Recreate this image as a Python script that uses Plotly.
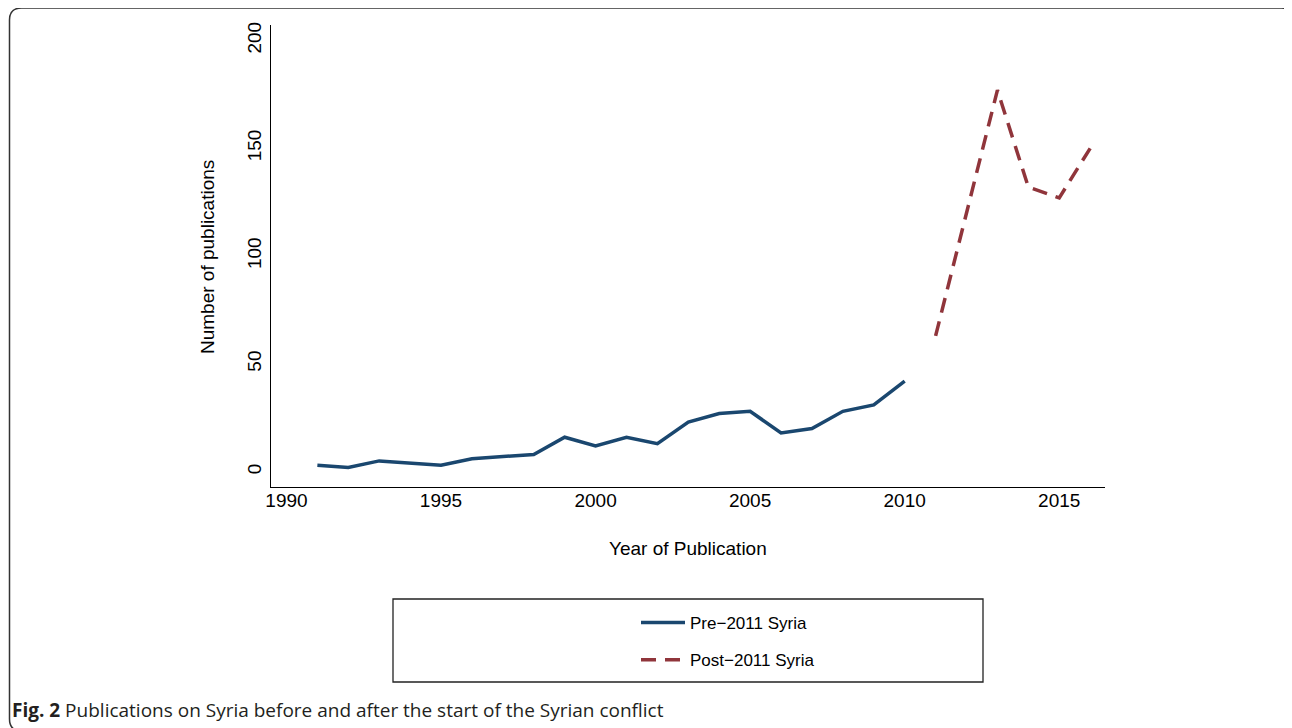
import plotly.graph_objects as go

# ---- data ----
pre_years = [1991, 1992, 1993, 1994, 1995, 1996, 1997, 1998, 1999, 2000,
             2001, 2002, 2003, 2004, 2005, 2006, 2007, 2008, 2009, 2010]
pre_counts = [3, 2, 5, 4, 3, 6, 7, 8, 16, 12,
              16, 13, 23, 27, 28, 18, 20, 28, 31, 42]
post_years = [2011, 2012, 2013, 2014, 2015, 2016]
post_counts = [63, 120, 177, 132, 127, 150]
x_ticks = [1990, 1995, 2000, 2005, 2010, 2015]
y_ticks = [0, 50, 100, 150, 200]

PAGE_W, PAGE_H = 1292, 728
OFF = 8  # default body margin of the page
W, H = PAGE_W - OFF, PAGE_H - OFF
L, R, T, B = 271, 1105, 25, 487  # plot area in page pixels


def px(x):
    return (x - L) / (R - L)


def py(y):
    return (B - y) / (B - T)


FONT = "Liberation Sans, Arial, Helvetica, sans-serif"
BLUE = "#1a476f"
RED = "#90353b"

fig = go.Figure()
fig.add_trace(go.Scatter(x=pre_years, y=pre_counts, mode="lines", name="Pre\u22122011 Syria",
                         legendgroup="a",
                         line=dict(color=BLUE, width=3.5)))
fig.add_trace(go.Scatter(x=post_years, y=post_counts, mode="lines", name="Post\u22122011 Syria",
                         legendgroup="b",
                         line=dict(color=RED, width=3.5, dash="15px,9px")))

# rounded outer frame
fl, ft, fr, fb, rad = 9.5, 8, 1293.5, 731, 12
path = (f"M {px(fl)},{py(ft+rad)} Q {px(fl)},{py(ft)} {px(fl+rad)},{py(ft)} "
        f"L {px(fr-rad)},{py(ft)} Q {px(fr)},{py(ft)} {px(fr)},{py(ft+rad)} "
        f"L {px(fr)},{py(fb-rad)} Q {px(fr)},{py(fb)} {px(fr-rad)},{py(fb)} "
        f"L {px(fl+rad)},{py(fb)} Q {px(fl)},{py(fb)} {px(fl)},{py(fb-rad)} Z")

shapes = [
    dict(type="path", xref="paper", yref="paper", path=path,
         line=dict(color="#333333", width=1.5), layer="below"),
    dict(type="rect", xref="paper", yref="paper",
         x0=px(393), x1=px(983), y0=py(682), y1=py(599),
         line=dict(color="#222222", width=1.3)),
]

annotations = [
    dict(text="Year of Publication", xref="paper", yref="paper",
         x=px(688), y=py(548), xanchor="center", yanchor="middle",
         showarrow=False, font=dict(family=FONT, size=19, color="#000000")),
    dict(text="Number of publications", xref="paper", yref="paper",
         x=px(207), y=py(257), xanchor="center", yanchor="middle", textangle=-90,
         showarrow=False, font=dict(family=FONT, size=19, color="#000000")),
    dict(text="<b>Fig. 2</b> Publications on Syria before and after the start of the Syrian conflict",
         xref="paper", yref="paper", x=px(10), y=py(710), xanchor="left", yanchor="middle",
         showarrow=False, font=dict(family="Open Sans, Noto Sans, sans-serif", size=19, color="#231f20")),
]

fig.update_layout(
    width=W, height=H,
    margin=dict(l=L - OFF, r=PAGE_W - R, t=T - OFF, b=PAGE_H - B, pad=0),
    paper_bgcolor="white", plot_bgcolor="white",
    showlegend=True,
    legend=dict(x=px(636), y=py(605), xanchor="left", yanchor="top",
                bgcolor="rgba(0,0,0,0)", borderwidth=0,
                font=dict(family=FONT, size=17, color="#000000"),
                itemwidth=44, traceorder="grouped", tracegroupgap=12),
    shapes=shapes,
    annotations=annotations,
    xaxis=dict(range=[1989.5, 2016.48], tickvals=x_ticks, showgrid=False, zeroline=False,
               showline=True, linecolor="#000000", linewidth=1.3, ticks="",
               ticklabelstandoff=-4,
               tickfont=dict(family=FONT, size=19, color="#000000")),
    yaxis=dict(range=[-7.1, 207.2], tickvals=y_ticks, showgrid=False, zeroline=False,
               showline=True, linecolor="#000000", linewidth=1.3, ticks="",
               tickangle=-90, ticklabelstandoff=1,
               tickfont=dict(family=FONT, size=19, color="#000000")),
)

fig.write_html("out.html")
